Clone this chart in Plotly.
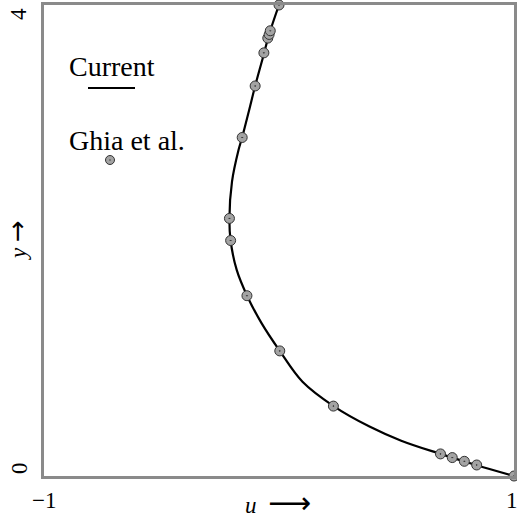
import plotly.graph_objects as go

# Current solution (curve)
curve_u = [1.0, 0.838, 0.687, 0.52, 0.385, 0.232, 0.10, 0.003, -0.075, -0.136,
           -0.180, -0.206, -0.211, -0.200, -0.172, -0.157, -0.128, -0.1015,
           -0.069, -0.042, 0.0]
curve_y = [0.0, 0.0936, 0.1876, 0.30, 0.42, 0.5936, 0.80, 1.0624, 1.30, 1.5312,
           1.75, 2.0, 2.1876, 2.50, 2.77, 2.8748, 3.10, 3.3124,
           3.55, 3.75, 4.0]

# Ghia et al. reference points
ghia_u = [1.0, 0.84123, 0.78871, 0.73722, 0.68717, 0.23151, 0.00332, -0.13641,
          -0.20581, -0.21090, -0.15662, -0.10150, -0.06434, -0.04775, -0.04192,
          -0.03717, 0.0]
ghia_y = [0.0, 0.0936, 0.1248, 0.1564, 0.1876, 0.5936, 1.0624, 1.5312,
          2.0, 2.1876, 2.8748, 3.3124, 3.5936, 3.7188, 3.75, 3.7812, 4.0]

x_ticktext = ["\u22121", "1"]
y_ticktext = ["0", "4"]

FONT = "Liberation Serif"
ARROW = "<span style='font-family:DejaVu Sans;font-size:{}px'>{}</span>"
W, H = 517, 519
L, R, T, B = 44, 3, 5, 43
PW, PH = W - L - R, H - T - B


def px(x):
    return (x - L) / PW


def py(y):
    return (H - B - y) / PH


fig = go.Figure()
fig.add_trace(go.Scatter(
    x=curve_u, y=curve_y, mode="lines", name="Current",
    line=dict(color="black", width=2.2, shape="spline", smoothing=1.0),
    cliponaxis=False, showlegend=False,
))
fig.add_trace(go.Scatter(
    x=ghia_u, y=ghia_y, mode="markers", name="Ghia et al.",
    marker=dict(symbol="circle-dot", size=10, color="#a3a3a3",
                line=dict(color="#333333", width=1)),
    cliponaxis=False, showlegend=False,
))

tf = dict(size=23, color="black", family=FONT)
annotations = [
    dict(text="Current", x=px(67), y=py(67), xanchor="left", yanchor="middle",
         font=dict(size=28, color="black", family=FONT)),
    dict(text="Ghia et al.", x=px(67), y=py(140), xanchor="left", yanchor="middle",
         font=dict(size=28, color="black", family=FONT)),
    # tick labels
    dict(text=x_ticktext[0], x=px(44), y=py(500), xanchor="center", yanchor="middle", font=tf),
    dict(text=x_ticktext[1], x=px(512), y=py(500), xanchor="center", yanchor="middle", font=tf),
    dict(text=y_ticktext[1], x=px(19), y=py(14), textangle=-90, xanchor="center",
         yanchor="middle", font=tf),
    dict(text=y_ticktext[0], x=px(19), y=py(468), textangle=-90, xanchor="center",
         yanchor="middle", font=tf),
    # axis titles
    dict(text="<i>y</i> " + ARROW.format(26, "\u2192"), x=px(17), y=py(240), textangle=-90,
         xanchor="center", yanchor="middle", font=tf),
    dict(text="<i>u</i>  " + ARROW.format(30, "\u27F6"), x=px(278), y=py(502),
         xanchor="center", yanchor="middle", font=tf),
]
for a in annotations:
    a.update(xref="paper", yref="paper", showarrow=False)

shapes = [
    dict(type="line", xref="paper", yref="paper", x0=px(88), x1=px(135),
         y0=py(88), y1=py(88), line=dict(color="black", width=2.2)),
    dict(type="circle", xref="paper", yref="paper", x0=px(105.5), x1=px(114.5),
         y0=py(164.5), y1=py(155.5), fillcolor="#a3a3a3",
         line=dict(color="#333333", width=1)),
    dict(type="circle", xref="paper", yref="paper", x0=px(109.3), x1=px(110.7),
         y0=py(160.7), y1=py(159.3), fillcolor="#333333",
         line=dict(color="#333333", width=0)),
]

fig.update_layout(
    width=W, height=H,
    margin=dict(l=L, r=R, t=T, b=B, pad=0, autoexpand=False),
    paper_bgcolor="white", plot_bgcolor="white",
    annotations=annotations, shapes=shapes,
    showlegend=False,
    xaxis=dict(range=[-1, 1], showticklabels=False, automargin=False,
               showgrid=False, zeroline=False, showline=True, mirror=True,
               linecolor="#8a8a8a", linewidth=2.5, ticks=""),
    yaxis=dict(range=[0, 4], showticklabels=False, automargin=False,
               showgrid=False, zeroline=False, showline=True, mirror=True,
               linecolor="#8a8a8a", linewidth=2.5, ticks=""),
)

fig.write_html("out.html")
